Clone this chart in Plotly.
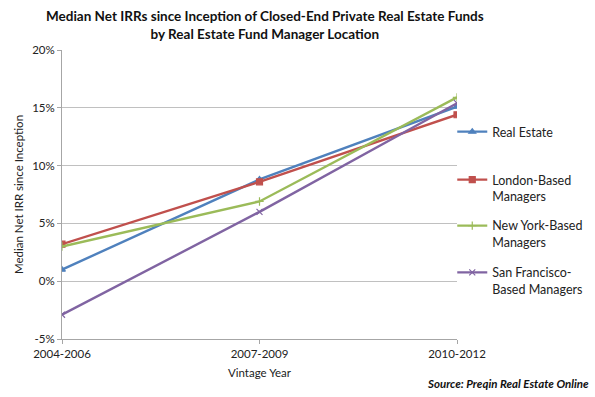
import plotly.graph_objects as go

categories = ["2004-2006", "2007-2009", "2010-2012"]
series_names = ["Real Estate", "London-Based<br>Managers", "New York-Based<br>Managers", "San Francisco-<br>Based Managers"]
real_estate = [1.0, 8.8, 15.1]
london = [3.2, 8.6, 14.4]
new_york = [3.0, 6.9, 15.9]
san_francisco = [-2.9, 6.0, 15.4]
y_ticks = [-5, 0, 5, 10, 15, 20]
y_tick_labels = ["-5%", "0%", "5%", "10%", "15%", "20%"]

colors = ["#4F81BD", "#C0504D", "#9BBB59", "#8064A2"]
symbols = ["triangle-up", "square", "cross-thin-open", "x-thin-open"]
values = [real_estate, london, new_york, san_francisco]
legend_ids = ["legend", "legend2", "legend3", "legend4"]
legend_tops = [0.768, 0.602, 0.443, 0.281]

FONT = "Lato, DejaVu Sans, sans-serif"

fig = go.Figure()
for i, (name, vals) in enumerate(zip(series_names, values)):
    fig.add_trace(go.Scatter(
        x=[0, 1, 2], y=vals, name=name, mode="lines+markers",
        legend=legend_ids[i],
        line=dict(color=colors[i], width=2.4),
        marker=dict(symbol=symbols[i], size=6, color=colors[i],
                    line=dict(color=colors[i], width=1.2)),
    ))

legend_common = dict(xanchor="left", yanchor="top", valign="top",
                     font=dict(size=12.5, color="#222222"),
                     itemwidth=30, bgcolor="rgba(0,0,0,0)")
LEG_X = 0.988

fig.update_layout(
    width=595, height=397,
    margin=dict(l=62, r=138, t=50, b=58, autoexpand=False),
    paper_bgcolor="white", plot_bgcolor="white",
    font=dict(family=FONT, size=11, color="#222222"),
    showlegend=True,
    legend=dict(x=LEG_X, y=legend_tops[0], **legend_common),
    legend2=dict(x=LEG_X, y=legend_tops[1], **legend_common),
    legend3=dict(x=LEG_X, y=legend_tops[2], **legend_common),
    legend4=dict(x=LEG_X, y=legend_tops[3], **legend_common),
    xaxis=dict(
        range=[0, 2], tickmode="array", tickvals=[0, 1, 2], ticktext=categories,
        showgrid=False, showline=True, linecolor="#a6a6a6", linewidth=1,
        ticks="outside", ticklen=4, tickcolor="#a6a6a6",
        tickfont=dict(size=11.5),
        title=dict(text="Vintage Year", font=dict(size=11.5), standoff=10),
        zeroline=False,
    ),
    yaxis=dict(
        range=[-5, 20], tickmode="array", tickvals=y_ticks, ticktext=y_tick_labels,
        showgrid=True, gridcolor="#c0c0c0", gridwidth=1,
        showline=True, linecolor="#a6a6a6", linewidth=1,
        ticks="outside", ticklen=4, tickcolor="#a6a6a6",
        tickfont=dict(size=11.5),
        zeroline=False,
        title=dict(text="Median Net IRR since Inception", font=dict(size=11.5), standoff=6),
    ),
)

fig.add_annotation(text="<b>Median Net IRRs since Inception of Closed-End Private Real Estate Funds<br>by Real Estate Fund Manager Location</b>",
                   xref="paper", yref="paper", x=0.513, y=1.085,
                   xanchor="center", yanchor="middle", showarrow=False,
                   font=dict(size=13.5, color="#111111"))

fig.add_annotation(text="<b><i>Source: Preqin Real Estate Online</i></b>",
                   xref="paper", yref="paper", x=1.34, y=-0.125,
                   xanchor="right", yanchor="top", showarrow=False,
                   font=dict(size=11.5, color="#111111"))

fig.write_html("out.html", config={"displayModeBar": False},
               post_script="document.body.style.margin='0';document.body.style.overflow='hidden';")
